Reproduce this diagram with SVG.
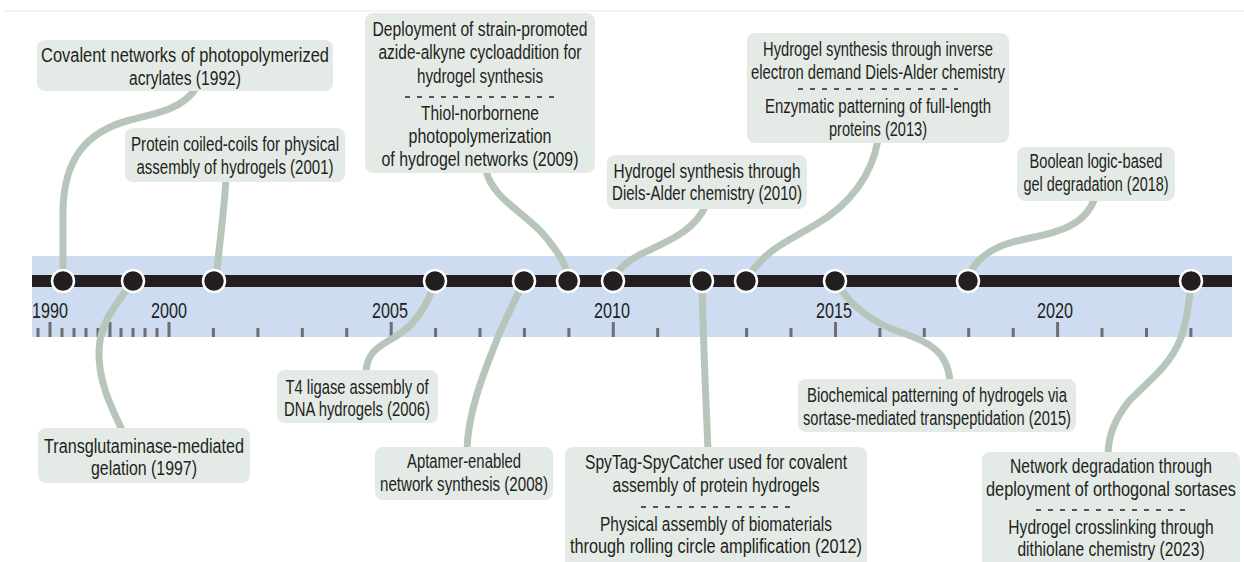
<svg xmlns="http://www.w3.org/2000/svg" width="1244" height="562" viewBox="0 0 1244 562">
<defs>
<style>
.bg{fill:#ffffff}
.band{fill:#cddcf0}
.axis{fill:#231f20}
.tick{stroke:#6d6e71;stroke-width:3}
.yr{font-family:"Liberation Sans",Arial,sans-serif;font-size:22px;fill:#231f20;text-anchor:middle}
.conn{fill:none;stroke:#b7c6ba;stroke-width:7;stroke-linecap:butt}
.dot{fill:#231f20;stroke:#ffffff;stroke-width:2.5}
.box{fill:#e4ebe6}
.t{font-family:"Liberation Sans",Arial,sans-serif;font-size:20px;fill:#231f20;text-anchor:middle}
.dash{stroke:#231f20;stroke-width:1.6;stroke-dasharray:5 7}
</style>
</defs>
<rect class="bg" x="0" y="0" width="1244" height="562"/>
<line x1="5" y1="11" x2="1244" y2="11" stroke="#e8e8e8" stroke-width="1"/>

<g id="timeline-band">
<rect class="band" x="32" y="256" width="1200" height="81"/>
<g id="ticks">
<line class="tick" x1="38" y1="328" x2="38" y2="337"/>
<line class="tick" x1="50" y1="322" x2="50" y2="337"/>
<line class="tick" x1="62" y1="328" x2="62" y2="337"/>
<line class="tick" x1="74" y1="328" x2="74" y2="337"/>
<line class="tick" x1="86" y1="328" x2="86" y2="337"/>
<line class="tick" x1="98" y1="328" x2="98" y2="337"/>
<line class="tick" x1="110" y1="322" x2="110" y2="337"/>
<line class="tick" x1="121" y1="328" x2="121" y2="337"/>
<line class="tick" x1="133" y1="328" x2="133" y2="337"/>
<line class="tick" x1="145" y1="328" x2="145" y2="337"/>
<line class="tick" x1="157" y1="328" x2="157" y2="337"/>
<line class="tick" x1="169" y1="322" x2="169" y2="337"/>
<line class="tick" x1="213.4" y1="328" x2="213.4" y2="337"/>
<line class="tick" x1="257.9" y1="328" x2="257.9" y2="337"/>
<line class="tick" x1="302.3" y1="328" x2="302.3" y2="337"/>
<line class="tick" x1="346.7" y1="328" x2="346.7" y2="337"/>
<line class="tick" x1="391.2" y1="322" x2="391.2" y2="337"/>
<line class="tick" x1="435.6" y1="328" x2="435.6" y2="337"/>
<line class="tick" x1="480" y1="328" x2="480" y2="337"/>
<line class="tick" x1="524.4" y1="328" x2="524.4" y2="337"/>
<line class="tick" x1="568.9" y1="328" x2="568.9" y2="337"/>
<line class="tick" x1="613.3" y1="322" x2="613.3" y2="337"/>
<line class="tick" x1="657.7" y1="328" x2="657.7" y2="337"/>
<line class="tick" x1="702.2" y1="328" x2="702.2" y2="337"/>
<line class="tick" x1="746.6" y1="328" x2="746.6" y2="337"/>
<line class="tick" x1="791" y1="328" x2="791" y2="337"/>
<line class="tick" x1="835.5" y1="322" x2="835.5" y2="337"/>
<line class="tick" x1="879.9" y1="328" x2="879.9" y2="337"/>
<line class="tick" x1="924.3" y1="328" x2="924.3" y2="337"/>
<line class="tick" x1="968.7" y1="328" x2="968.7" y2="337"/>
<line class="tick" x1="1013.2" y1="328" x2="1013.2" y2="337"/>
<line class="tick" x1="1057.6" y1="322" x2="1057.6" y2="337"/>
<line class="tick" x1="1102" y1="328" x2="1102" y2="337"/>
<line class="tick" x1="1146.5" y1="328" x2="1146.5" y2="337"/>
<line class="tick" x1="1190.9" y1="328" x2="1190.9" y2="337"/>
</g>
<g id="years">
<text class="yr" x="50" y="318" textLength="36" lengthAdjust="spacingAndGlyphs">1990</text>
<text class="yr" x="169" y="318" textLength="36" lengthAdjust="spacingAndGlyphs">2000</text>
<text class="yr" x="390" y="318" textLength="36" lengthAdjust="spacingAndGlyphs">2005</text>
<text class="yr" x="612" y="318" textLength="36" lengthAdjust="spacingAndGlyphs">2010</text>
<text class="yr" x="834" y="318" textLength="36" lengthAdjust="spacingAndGlyphs">2015</text>
<text class="yr" x="1055" y="318" textLength="36" lengthAdjust="spacingAndGlyphs">2020</text>
</g>
</g>

<g id="connectors">
<path class="conn" d="M196,88 C183,108 160,113 130,120 C85,132 64,160 63,210 L63,281"/>
<path class="conn" d="M226,178 C224,215 219,245 216,281"/>
<path class="conn" d="M486,170 C492,200 530,215 548,240 C560,255 567,265 568,281"/>
<path class="conn" d="M706,205 C695,230 670,240 650,250 C630,258 618,268 613,281"/>
<path class="conn" d="M878,140 C872,175 850,205 815,225 C785,242 770,250 760,262 C752,270 748,276 746,281"/>
<path class="conn" d="M1095,198 C1085,225 1060,232 1030,238 C1000,244 985,252 975,265 C970,272 968,276 968,281"/>
<path class="conn" d="M133,281 C120,300 100,320 99,350 C98,380 110,405 123,432"/>
<path class="conn" d="M435,281 C428,305 415,325 395,337 C375,348 366,355 366,374"/>
<path class="conn" d="M524,281 C515,300 505,320 498,337 C485,370 468,410 467,450"/>
<path class="conn" d="M702,281 C703,340 706,400 708,450"/>
<path class="conn" d="M835,281 C850,305 870,322 900,332 C930,342 948,352 950,382"/>
<path class="conn" d="M1191,281 C1189,305 1186,325 1180,340 C1170,365 1150,380 1130,400 C1115,418 1108,435 1108,455"/>
</g>

<g id="timeline-axis">
<rect class="axis" x="32" y="275" width="1200" height="12"/>
<circle class="dot" cx="63" cy="281" r="11"/>
<circle class="dot" cx="133" cy="281" r="11"/>
<circle class="dot" cx="214" cy="281" r="11"/>
<circle class="dot" cx="435" cy="281" r="11"/>
<circle class="dot" cx="524" cy="281" r="11"/>
<circle class="dot" cx="568" cy="281" r="11"/>
<circle class="dot" cx="613" cy="281" r="11"/>
<circle class="dot" cx="702" cy="281" r="11"/>
<circle class="dot" cx="746" cy="281" r="11"/>
<circle class="dot" cx="835" cy="281" r="11"/>
<circle class="dot" cx="968" cy="281" r="11"/>
<circle class="dot" cx="1191" cy="281" r="11"/>
</g>

<g id="node-1992">
<rect class="box" x="37" y="40" width="296" height="51" rx="8"/>
<text class="t" x="185" y="62" textLength="288" lengthAdjust="spacingAndGlyphs">Covalent networks of photopolymerized</text>
<text class="t" x="185" y="85" textLength="112" lengthAdjust="spacingAndGlyphs">acrylates (1992)</text>
</g>
<g id="node-2001">
<rect class="box" x="125" y="128" width="220" height="54" rx="8"/>
<text class="t" x="235" y="151" textLength="208" lengthAdjust="spacingAndGlyphs">Protein coiled-coils for physical</text>
<text class="t" x="235" y="174" textLength="197" lengthAdjust="spacingAndGlyphs">assembly of hydrogels (2001)</text>
</g>
<g id="node-2009">
<rect class="box" x="365" y="13" width="230" height="160" rx="8"/>
<text class="t" x="480" y="36" textLength="215" lengthAdjust="spacingAndGlyphs">Deployment of strain-promoted</text>
<text class="t" x="480" y="59" textLength="203" lengthAdjust="spacingAndGlyphs">azide-alkyne cycloaddition for</text>
<text class="t" x="480" y="83" textLength="126" lengthAdjust="spacingAndGlyphs">hydrogel synthesis</text>
<line class="dash" x1="405" y1="97" x2="558" y2="97"/>
<text class="t" x="480" y="120" textLength="118" lengthAdjust="spacingAndGlyphs">Thiol-norbornene</text>
<text class="t" x="480" y="143" textLength="143" lengthAdjust="spacingAndGlyphs">photopolymerization</text>
<text class="t" x="480" y="166" textLength="197" lengthAdjust="spacingAndGlyphs">of hydrogel networks (2009)</text>
</g>
<g id="node-2010">
<rect class="box" x="607" y="155" width="200" height="54" rx="8"/>
<text class="t" x="707" y="178" textLength="187" lengthAdjust="spacingAndGlyphs">Hydrogel synthesis through</text>
<text class="t" x="707" y="200" textLength="190" lengthAdjust="spacingAndGlyphs">Diels-Alder chemistry (2010)</text>
</g>
<g id="node-2013">
<rect class="box" x="747" y="33" width="262" height="110" rx="8"/>
<text class="t" x="878" y="56" textLength="230" lengthAdjust="spacingAndGlyphs">Hydrogel synthesis through inverse</text>
<text class="t" x="878" y="79" textLength="254" lengthAdjust="spacingAndGlyphs">electron demand Diels-Alder chemistry</text>
<line class="dash" x1="798" y1="89" x2="958" y2="89"/>
<text class="t" x="878" y="113" textLength="226" lengthAdjust="spacingAndGlyphs">Enzymatic patterning of full-length</text>
<text class="t" x="878" y="136" textLength="98" lengthAdjust="spacingAndGlyphs">proteins (2013)</text>
</g>
<g id="node-2018">
<rect class="box" x="1017" y="147" width="158" height="54" rx="8"/>
<text class="t" x="1096" y="168" textLength="133" lengthAdjust="spacingAndGlyphs">Boolean logic-based</text>
<text class="t" x="1096" y="191" textLength="145" lengthAdjust="spacingAndGlyphs">gel degradation (2018)</text>
</g>
<g id="node-1997">
<rect class="box" x="38" y="428" width="212" height="55" rx="8"/>
<text class="t" x="144" y="453" textLength="200" lengthAdjust="spacingAndGlyphs">Transglutaminase-mediated</text>
<text class="t" x="144" y="475" textLength="106" lengthAdjust="spacingAndGlyphs">gelation (1997)</text>
</g>
<g id="node-2006">
<rect class="box" x="277" y="370" width="161" height="53" rx="8"/>
<text class="t" x="357" y="394" textLength="143" lengthAdjust="spacingAndGlyphs">T4 ligase assembly of</text>
<text class="t" x="357" y="416" textLength="146" lengthAdjust="spacingAndGlyphs">DNA hydrogels (2006)</text>
</g>
<g id="node-2008">
<rect class="box" x="375" y="447" width="178" height="53" rx="8"/>
<text class="t" x="464" y="468" textLength="114" lengthAdjust="spacingAndGlyphs">Aptamer-enabled</text>
<text class="t" x="464" y="491" textLength="168" lengthAdjust="spacingAndGlyphs">network synthesis (2008)</text>
</g>
<g id="node-2012">
<rect class="box" x="565" y="447" width="302" height="125" rx="8"/>
<text class="t" x="716" y="469" textLength="262" lengthAdjust="spacingAndGlyphs">SpyTag-SpyCatcher used for covalent</text>
<text class="t" x="716" y="492" textLength="207" lengthAdjust="spacingAndGlyphs">assembly of protein hydrogels</text>
<line class="dash" x1="641" y1="507" x2="791" y2="507"/>
<text class="t" x="716" y="531" textLength="232" lengthAdjust="spacingAndGlyphs">Physical assembly of biomaterials</text>
<text class="t" x="716" y="553" textLength="292" lengthAdjust="spacingAndGlyphs">through rolling circle amplification (2012)</text>
</g>
<g id="node-2015">
<rect class="box" x="798" y="379" width="278" height="53" rx="8"/>
<text class="t" x="937" y="402" textLength="260" lengthAdjust="spacingAndGlyphs">Biochemical patterning of hydrogels via</text>
<text class="t" x="937" y="425" textLength="268" lengthAdjust="spacingAndGlyphs">sortase-mediated transpeptidation (2015)</text>
</g>
<g id="node-2023">
<rect class="box" x="982" y="452" width="258" height="120" rx="8"/>
<text class="t" transform="translate(1111,473) scale(0.783,1)" x="0" y="0">Network degradation through</text>
<text class="t" transform="translate(1111,496) scale(0.815,1)" x="0" y="0">deployment of orthogonal sortases</text>
<line class="dash" x1="1036" y1="510" x2="1186" y2="510"/>
<text class="t" transform="translate(1111,534) scale(0.78,1)" x="0" y="0">Hydrogel crosslinking through</text>
<text class="t" transform="translate(1111,556) scale(0.78,1)" x="0" y="0">dithiolane chemistry (2023)</text>
</g>
</svg>
